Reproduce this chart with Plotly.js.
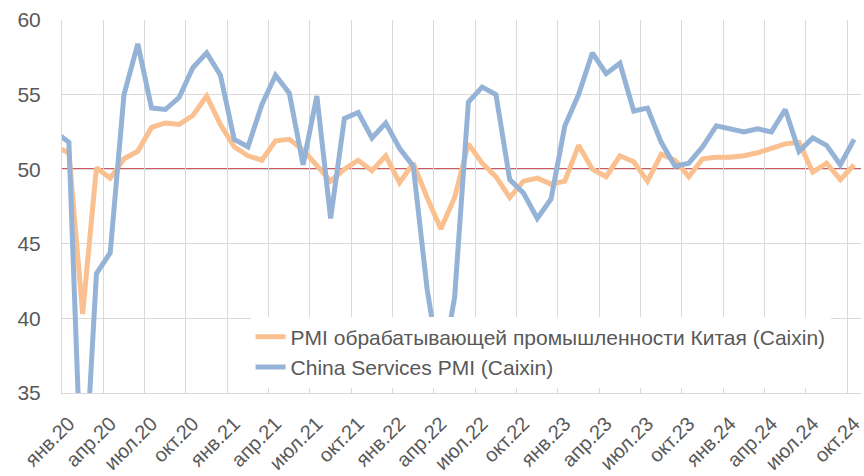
<!DOCTYPE html>
<html>
<head>
<meta charset="utf-8">
<script src="https://cdn.plot.ly/plotly-3.0.1.min.js"></script>
<style>
  html, body { margin: 0; padding: 0; background: #ffffff; }
  #chart { width: 864px; height: 476px; }
</style>
</head>
<body>
<div id="chart"></div>
<script>
// Months (first one, дек.19, lies just left of the visible range and is clipped)
const months = [
  'дек.19',
  'янв.20','фев.20','мар.20','апр.20','май.20','июн.20','июл.20','авг.20','сен.20','окт.20','ноя.20','дек.20',
  'янв.21','фев.21','мар.21','апр.21','май.21','июн.21','июл.21','авг.21','сен.21','окт.21','ноя.21','дек.21',
  'янв.22','фев.22','мар.22','апр.22','май.22','июн.22','июл.22','авг.22','сен.22','окт.22','ноя.22','дек.22',
  'янв.23','фев.23','мар.23','апр.23','май.23','июн.23','июл.23','авг.23','сен.23','окт.23','ноя.23','дек.23',
  'янв.24','фев.24','мар.24','апр.24','май.24','июн.24','июл.24','авг.24','сен.24','окт.24'
];

// Caixin manufacturing PMI (orange)
const manufacturingPMI = [
  51.5,
  51.1, 40.3, 50.1, 49.4, 50.7, 51.2, 52.8, 53.1, 53.0, 53.6, 54.9, 53.0,
  51.5, 50.9, 50.6, 51.9, 52.0, 51.3, 50.3, 49.2, 50.0, 50.6, 49.9, 50.9,
  49.1, 50.4, 48.1, 46.0, 48.1, 51.7, 50.4, 49.5, 48.1, 49.2, 49.4, 49.0,
  49.2, 51.6, 50.0, 49.5, 50.9, 50.5, 49.2, 51.0, 50.6, 49.5, 50.7, 50.8,
  50.8, 50.9, 51.1, 51.4, 51.7, 51.8, 49.8, 50.4, 49.3, 50.3
];

// Caixin services PMI (blue)
const servicesPMI = [
  52.5,
  51.8, 26.5, 43.0, 44.4, 55.0, 58.4, 54.1, 54.0, 54.8, 56.8, 57.8, 56.3,
  52.0, 51.5, 54.3, 56.3, 55.1, 50.3, 54.9, 46.7, 53.4, 53.8, 52.1, 53.1,
  51.4, 50.2, 42.0, 36.2, 41.4, 54.5, 55.5, 55.0, 49.3, 48.4, 46.7, 48.0,
  52.9, 55.0, 57.8, 56.4, 57.1, 53.9, 54.1, 51.8, 50.2, 50.4, 51.5, 52.9,
  52.7, 52.5, 52.7, 52.5, 54.0, 51.2, 52.1, 51.6, 50.3, 52.0
];

// Labelled ticks (every third month from янв.20)
const tickLabels = [
  'янв.20','апр.20','июл.20','окт.20','янв.21','апр.21','июл.21','окт.21',
  'янв.22','апр.22','июл.22','окт.22','янв.23','апр.23','июл.23','окт.23',
  'янв.24','апр.24','июл.24','окт.24'
];

const seriesNames = [
  'PMI обрабатывающей промышленности Китая (Caixin)',
  'China Services PMI (Caixin)'
];

const threshold = 50;

// x index: янв.20 = 0
const xIdx = months.map((m, i) => i - 1);
const tickVals = tickLabels.map(t => months.indexOf(t) - 1);

const font = "'Liberation Sans', Arial, sans-serif";
const textColor = '#595959';
const gridColor = '#D9D9D9';

const traces = [
  {
    x: xIdx, y: manufacturingPMI, name: seriesNames[0], type: 'scatter', mode: 'lines',
    line: { color: '#FAC090', width: 5 }, hoverinfo: 'skip'
  },
  {
    x: xIdx, y: servicesPMI, name: seriesNames[1], type: 'scatter', mode: 'lines',
    line: { color: '#95B3D7', width: 5 }, hoverinfo: 'skip'
  }
];

const layout = {
  width: 864, height: 476,
  margin: { l: 62, r: 3, t: 20, b: 83 },
  paper_bgcolor: '#ffffff', plot_bgcolor: '#ffffff',
  font: { family: font, color: textColor },
  showlegend: true,
  legend: {
    x: 0.236, y: 0.205, xanchor: 'left', yanchor: 'top',
    bgcolor: '#ffffff', borderwidth: 0,
    font: { family: font, size: 21, color: textColor },
    itemwidth: 30
  },
  xaxis: {
    range: [-0.5, 57.5],
    tickmode: 'array', tickvals: tickVals, ticktext: tickLabels,
    tickangle: -45,
    tickfont: { family: font, size: 20, color: textColor },
    ticklabeloverflow: 'allow',
    showgrid: false, zeroline: false,
    showline: true, linecolor: gridColor, linewidth: 1,
    ticks: '', ticklabelstandoff: 10,
    minor: { tickmode: 'linear', tick0: -0.5, dtick: 3, showgrid: true, gridcolor: gridColor, gridwidth: 1, ticks: '' },
    fixedrange: true
  },
  yaxis: {
    range: [35, 60],
    tickmode: 'linear', tick0: 35, dtick: 5,
    tickfont: { family: font, size: 21, color: textColor },
    showgrid: true, gridcolor: gridColor, gridwidth: 1,
    zeroline: false,
    showline: true, linecolor: gridColor, linewidth: 1,
    ticks: '', ticklabelstandoff: 16,
    fixedrange: true
  },
  shapes: [
    {
      type: 'line', xref: 'paper', x0: 0, x1: 1, yref: 'y', y0: threshold, y1: threshold,
      line: { color: '#C0202A', width: 1.8 }, layer: 'below'
    }
  ]
};

Plotly.newPlot('chart', traces, layout, { staticPlot: true, displayModeBar: false });
</script>
</body>
</html>
